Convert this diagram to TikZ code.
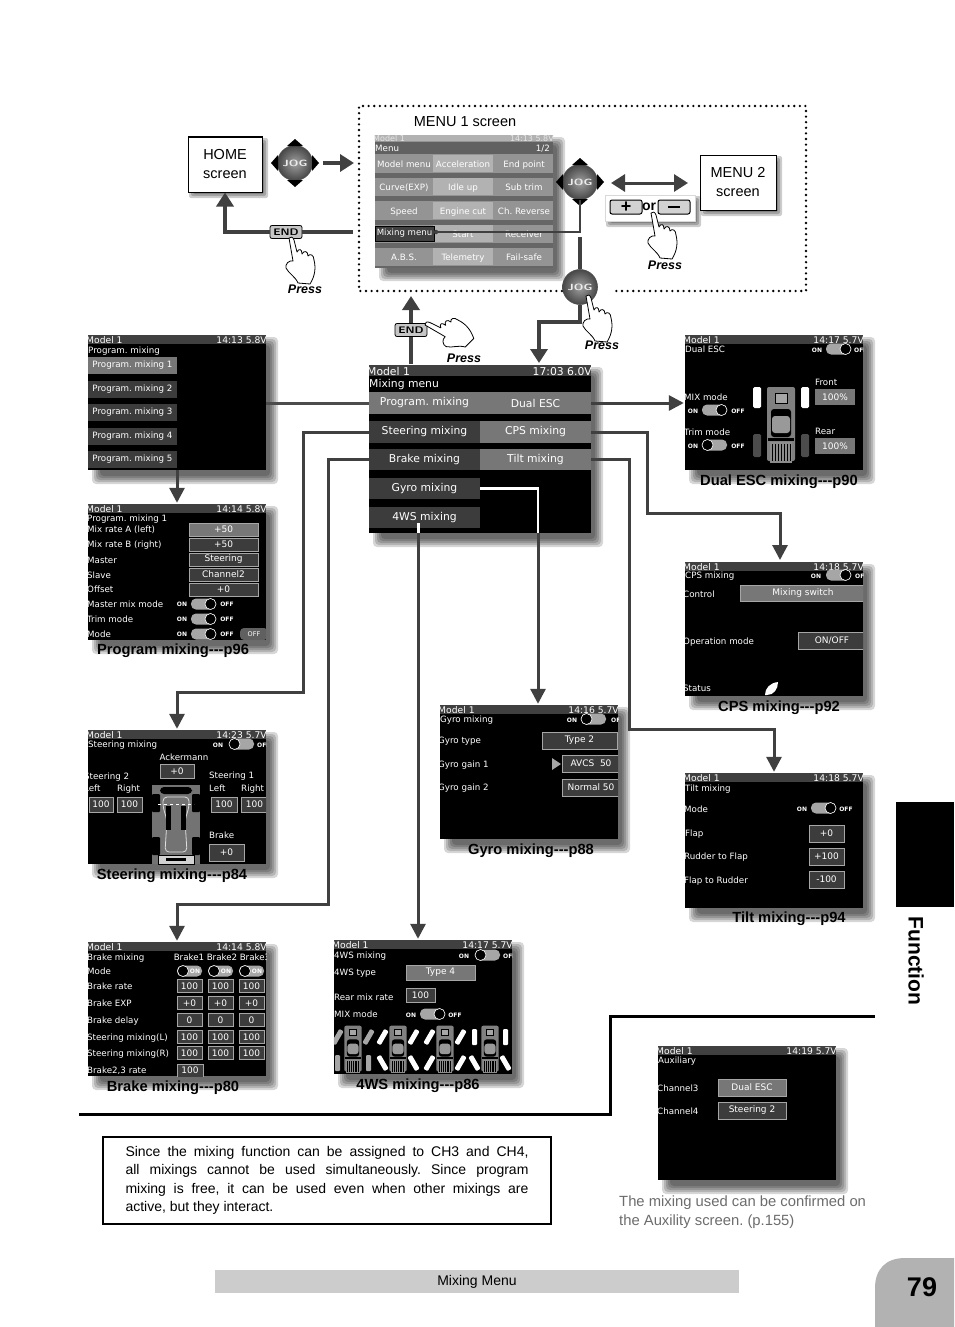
\documentclass[tikz,border=0pt]{standalone}
\usepackage{fontspec}
\setmainfont{Liberation Sans}
\newfontfamily\scrfont{DejaVu Sans}
\usetikzlibrary{arrows.meta,calc}
\definecolor{flowgray}{HTML}{404040}
\definecolor{rowdark}{HTML}{3C3C3C}
\definecolor{rowlight}{HTML}{777777}
\tikzset{
  flow/.style={draw=flowgray,line width=3pt},
  flowtip/.style={flow,-{Triangle[length=15pt,width=15pt]},shorten >=1pt},
  bigflow/.style={draw=flowgray,line width=4pt},
  bigtip/.style={bigflow,-{Triangle[length=14pt,width=17pt]}},
  scrbox/.style={fill=black,inner sep=0pt},
  scrbar/.style={fill=flowgray},
  scrtxt/.style={text=white,font=\scrfont\fontsize{8.7}{10}\selectfont,inner sep=0pt,anchor=west,yshift=-.6pt},
  scrhead/.style={scrtxt,font=\scrfont\fontsize{9.2}{10}\selectfont},
  tinytxt/.style={scrtxt,font=\scrfont\bfseries\fontsize{6}{7}\selectfont},
  valbox/.style={draw=gray!70,fill=rowdark,line width=.7pt,text=white,inner sep=0pt,font=\scrfont\fontsize{9}{10}\selectfont},
  capt/.style={font=\bfseries\fontsize{14.7}{16}\selectfont,inner sep=0pt},
  whitebox/.style={draw=black,fill=white,line width=1pt,align=center,font=\fontsize{14.5}{19}\selectfont,inner sep=0pt},
  jogball/.style={circle,minimum size=35pt,inner sep=0pt,draw=black!70,line width=.6pt,
    inner color=gray!75,outer color=black!72,text=gray!15,font=\sffamily\bfseries\fontsize{9}{9}\selectfont},
  endbtn/.style={draw=black,line width=.8pt,rounded corners=2pt,fill=gray!45,minimum width=32pt,minimum height=13pt,
    inner sep=0pt,font=\sffamily\bfseries\fontsize{9.5}{9}\selectfont},
  pmbtn/.style={draw=black,line width=1pt,rounded corners=2pt,fill=gray!35,minimum width=32pt,minimum height=14pt,
    inner sep=0pt,font=\bfseries\fontsize{18}{10}\selectfont},
  presstxt/.style={font=\bfseries\itshape\fontsize{12.5}{14}\selectfont,inner sep=0pt},
  handpic/.pic={
    \draw[fill=white,line width=.8pt,line join=round] (0,0) .. controls (2,-2) and (4,-1) .. (5,2) -- (8,14)
      .. controls (10,10) and (13,11) .. (13,16) .. controls (15,12) and (19,13) .. (19,18)
      .. controls (21,15) and (25,17) .. (25,22) .. controls (27,30) and (26,38) .. (21,46)
      -- (9,45) .. controls (6,38) and (0,36) .. (-3,30) .. controls (-4,26) and (0,22) .. (4,23)
      -- (0,0) -- cycle;
  },
  jogtips/.pic={
    \fill[black] (-8,-17) -- (8,-17) -- (0,-24) -- cycle;
    \fill[black] (-8,17) -- (8,17) -- (0,24) -- cycle;
    \fill[black] (-17,-8) -- (-17,8) -- (-24,0) -- cycle;
    \fill[black] (17,-8) -- (17,8) -- (24,0) -- cycle;
  },
  truckpic/.pic={
    \fill[black!50,rounded corners=2pt] (-14,-36) rectangle (14,38);
    \draw[black,fill=black!35,line width=.7pt] (-6,-30) rectangle (6,-20);
    \fill[black,rounded corners=3pt] (-10,-14) rectangle (10,14);
    \fill[black!40,rounded corners=3pt] (-9,-7) rectangle (9,10);
    \fill[black] (-13,15) rectangle (13,18);
    \fill[black!45] (-11,19) rectangle (11,40);
    \foreach \ribx in {-9,-6,...,9}{\draw[black,line width=.5pt] (\ribx,21) -- (\ribx,38);}
  },
}
\newcommand{\hdrh}{9}
\newcommand{\softshadow}[4]{\foreach \blr in {0,2,4}{\fill[black,opacity=.2,rounded corners=2pt] ({#1+5-\blr},{#2+5-\blr}) rectangle ({#3+2+\blr},{#4+2+\blr});}}
\newcommand{\stxt}[5][]{\node[scrtxt,#1] (#2) at (#3,#4) {#5};}
\newcommand{\valnode}[7][]{\node[valbox,minimum width={#5-#3},minimum height={#6-#4},#1] (#2) at ({(#3+#5)/2},{(#4+#6)/2}) {#7};}
% pill switch: left end, centre y, knob side (0 left, 1 right)
\newcommand{\togg}[3]{\fill[gray!70,rounded corners=5pt] (#1,{#2-5.5}) rectangle ({#1+25},{#2+5.5});
  \draw[white,fill=black,line width=.6pt] ({#1+5.5+14*#3},#2) circle (5.5pt);}
\newenvironment{scrn}[6]{%
  \foreach \blr in {0,2,4,6,8}{\fill[black,opacity=.16,rounded corners=4pt] ({#2+12-\blr},{#3+10-\blr}) rectangle ({#4+4+\blr},{#5+6+\blr});}
  \node[scrbox,minimum width={#4-#2},minimum height={#5-#3}] (#1) at ({(#2+#4)/2},{(#3+#5)/2}) {};
  \begin{scope}
  \clip (#1.south west) rectangle (#1.north east);
  \fill[scrbar] (#2,#3) rectangle (#4,{#3+\hdrh});
  \node[scrhead] (#1model) at ({#2-2},{#3+\hdrh/2}) {Model 1};
  \node[scrhead,anchor=east] (#1time) at ({#4+1},{#3+\hdrh/2}) {#6};
}{\end{scope}}
\begin{document}
\begin{tikzpicture}[x=1pt,y=-1pt]
\useasboundingbox (0,0) rectangle (954,1327);
\frenchspacing
% ---- page furniture
\fill[black] (896,802) rectangle (954,907);
\node[rotate=-90,font=\bfseries\fontsize{21}{24}\selectfont,inner sep=0pt] (tabname) at (916,961) {Function};
\fill[gray!60!white] (954,1258) -- (905,1258) .. controls (885,1258) and (875,1270) .. (875,1288) -- (875,1327) -- (954,1327) -- cycle;
\node[font=\bfseries\fontsize{27}{30}\selectfont,inner sep=0pt] (pagenum) at (922,1287) {79};
\node[fill=gray!40,minimum width=524pt,minimum height=23pt,inner sep=0pt,font=\fontsize{14}{16}\selectfont] (footbar) at (477,1281.5) {Mixing Menu};
\draw[black,line width=3pt] (79,1114) -| (610,1016) -- (875,1016);
\node[draw=black,line width=1.5pt,text width=403pt,inner xsep=22.5pt,inner ysep=0pt,minimum height=87pt,align=justify,
  font=\fontsize{14}{18.4}\selectfont] (notebox) at (327,1180.5)
  {Since the mixing function can be assigned to CH3 and CH4,\linebreak all mixings cannot be used simultaneously. Since program\linebreak mixing is free, it can be used even when other mixings are\linebreak active, but they interact.\par\vspace*{4pt}};
\node[anchor=west,inner sep=0pt,text=gray!85!black,align=left,font=\fontsize{14.8}{19}\selectfont] (auxnote) at (619,1212)
  {The mixing used can be confirmed on\\the Auxility screen. (p.155)};
% ---- top block
\draw[black,line width=2.6pt,line cap=round,dash pattern=on 0pt off 5.6pt] (562,291) -- (359,291) -- (359,106) -- (806,106) -- (806,291) -- (615,291);
\node[anchor=center,inner sep=0pt,font=\fontsize{14.5}{17}\selectfont] (menuonetxt) at (465,122) {MENU 1 screen};
\softshadow{188}{137}{262}{192}
\node[whitebox,minimum width=74pt,minimum height=55pt] (homebox) at (225,164.5) {HOME\\screen};
\softshadow{700}{155}{776}{210}
\node[whitebox,minimum width=76pt,minimum height=55pt] (menutwobox) at (738,182.5) {MENU 2\\screen};
% menu 1 screen
\begin{scope}[scrbox/.append style={fill=black!42},scrbar/.append style={fill=black!30},scrhead/.append style={text=black!10,font=\scrfont\fontsize{8}{9}\selectfont}]
\renewcommand{\hdrh}{6}
\begin{scrn}{scrMenu}{375}{135}{553}{267}{14:13 5.8V}
  \fill[black!62] (375,142) rectangle (553,154);
  \stxt{menuTitle}{375}{148}{Menu}
  \stxt[anchor=east]{menuPage}{550}{148}{1/2}
  \foreach \rowy/\rown in {164/a,187/b,211/c,234/d,257/e}{
    \fill[black!60] (375,{\rowy+9}) rectangle (553,{\rowy+14});
    \fill[black!30] (433,{\rowy-9}) rectangle (493,{\rowy+8});
  }
  \foreach \cxx/\cyy/\cnm/\ctx in {404/164/mA/Model menu,463/164/mB/Acceleration,524/164/mC/End point,
    404/187/mD/Curve(EXP),463/187/mE/Idle up,524/187/mF/Sub trim,
    404/211/mG/Speed,463/211/mH/Engine cut,524/211/mI/Ch. Reverse,
    463/234/mK/Start,524/234/mL/Receiver,
    404/257/mM/A.B.S.,463/257/mN/Telemetry,524/257/mO/Fail-safe}{
    \node[scrtxt,anchor=center,text=white] (\cnm) at (\cxx,\cyy) {\ctx};
  }
  \valnode[fill=flowgray,draw=black]{menuMix}{375}{226}{434}{241}{\fontsize{8.6}{10}\selectfont Mixing menu}
\end{scrn}
\end{scope}
\node[jogball] (joghome) at (295,163) {\scalebox{1.35}[1]{JOG}};
\pic (joghomeTips) at (joghome) {jogtips};
\coordinate (menuwest) at (354,163);
\draw[bigtip] (323,163) -- (menuwest);
\node[jogball] (jogsel) at (580,182) {\scalebox{1.35}[1]{JOG}};
\pic (jogselTips) at (jogsel) {jogtips};
\draw[flowgray,line width=3pt,{Triangle[length=14pt,width=17pt]}-{Triangle[length=14pt,width=17pt]}] (611,183) -- (688,183);
\softshadow{605}{195}{695}{221}
\node[draw=gray!30,fill=white,minimum width=90pt,minimum height=26pt,inner sep=0pt] (plusminus) at (650,208) {};
\node[pmbtn] (plusbtn) at (626,207) {+};
\node[pmbtn] (minusbtn) at (674,207) {\rule[0pt]{12pt}{2.4pt}};
\node[inner sep=0pt,font=\bfseries\fontsize{14}{14}\selectfont] (ortxt) at (649,206.5) {or};
\pic (handplus) at (651,213) {handpic};
\node[presstxt] (pressplus) at (665,265) {Press};
% end buttons and jog
\node[endbtn] (endhome) at (286,232) {\scalebox{1.2}[1]{END}};
\coordinate (endwest) at (353,232);
\draw[bigflow] (endwest) -- (endhome.east);
\draw[bigtip] (endhome.west) -| (homebox.south);
\pic (handhome) at (289,238) {handpic};
\node[presstxt] (presshome) at (305,289) {Press};
\node[circle,fill=flowgray,inner sep=0pt,minimum size=4.5pt] (mixdot) at (436,232) {};
\coordinate (jogturn) at (580,232);
\draw[flowgray,line width=1.2pt] (mixdot) -- (jogturn) -- (jogsel.south);
\node[jogball] (jogpress) at (580,287) {\scalebox{1.35}[1]{JOG}};
\coordinate (jogtop) at (580,237);
\draw[bigflow] (jogtop) -- (jogpress.north);
% mixing menu
\begin{scope}[scrhead/.append style={font=\scrfont\fontsize{10.8}{12}\selectfont}]
\renewcommand{\hdrh}{11}
\begin{scrn}{scrMix}{369}{365}{591}{533}{17:03 6.0V}
  \node[scrtxt,font=\scrfont\fontsize{10.8}{12}\selectfont] (mixtitle) at (369,383.5) {Mixing menu};
  \foreach \rnm/\rxa/\rxb/\rya/\ryb/\rcol/\rtx in {
    rowProgram/369/480/392/414/rowlight/Program. mixing,rowDual/480/591/392/414/rowlight/Dual ESC,
    rowSteer/369/480/421/443/rowdark/Steering mixing,rowCps/480/591/421/443/rowlight/CPS mixing,
    rowBrake/369/480/449/470/rowdark/Brake mixing,rowTilt/480/591/449/470/rowlight/Tilt mixing,
    rowGyro/369/480/478/499/rowdark/Gyro mixing,rowFour/369/480/507/528/rowdark/4WS mixing}{
    \node[fill=\rcol,text=white,inner sep=0pt,minimum width={\rxb-\rxa},minimum height={\ryb-\rya},
      font=\scrfont\fontsize{10.8}{12}\selectfont] (\rnm) at ({(\rxa+\rxb)/2},{(\rya+\ryb)/2}) {\rtx};
  }
\end{scrn}
\end{scope}
\coordinate (mixtop) at (411,364);
\node[endbtn] (endmix) at (411,330) {\scalebox{1.2}[1]{END}};
\coordinate (boxbottom) at (411,296);
\draw[bigflow] (mixtop) -- (endmix.south);
\draw[bigtip] (endmix.north) -- (boxbottom);
\pic[rotate=50] (handmix) at (425,325) {handpic};
\node[presstxt] (pressmix) at (464,358) {Press};
\coordinate (jogturnb) at (539,322);
\coordinate (mixarrow) at (539,363);
\draw[bigtip] (jogpress.south) |- (jogturnb) -- (mixarrow);
\pic (handjog) at (586,296) {handpic};
\node[presstxt] (pressjog) at (602,345) {Press};
% program mixing list
\begin{scrn}{scrList}{88}{335}{266}{470}{14:13 5.8V}
  \stxt{listTitle}{88}{350}{Program. mixing}
  \foreach \lnm/\lyy/\lcol/\ltx in {listOne/365.5/rowlight/Program. mixing 1,listTwo/389/rowdark/Program. mixing 2,
    listThree/412/rowdark/Program. mixing 3,listFour/436/rowdark/Program. mixing 4,listFive/459.5/rowdark/Program. mixing 5}{
    \node[fill=\lcol,text=white,minimum width=89pt,minimum height=17pt,inner sep=0pt,
      font=\scrfont\fontsize{8.7}{10}\selectfont] (\lnm) at (132.5,\lyy) {\ltx};
  }
\end{scrn}
% program mixing detail
\begin{scrn}{scrProg}{88}{504}{266}{640}{14:14 5.8V}
  \foreach \pnm/\pyy/\ptx in {progTitle/518/Program. mixing 1,progA/529/Mix rate A (left),progB/544/Mix rate B (right),
    progM/560/Master,progS/575/Slave,progO/589/Offset,progMm/604/Master mix mode,progT/619/Trim mode,progMo/634/Mode}{
    \node[scrtxt] (\pnm) at (87,\pyy) {\ptx};
  }
  \valnode[fill=rowlight]{progAv}{189}{523}{258}{536}{+50}
  \valnode{progBv}{189}{538}{258}{551}{+50}
  \valnode{progMv}{189}{553}{258}{566}{Steering}
  \valnode{progSv}{189}{568}{258}{581}{Channel2}
  \valnode{progOv}{189}{583}{258}{596}{+0}
  \foreach \tyy/\tnm in {604/progMt,619/progTt,634/progLt}{
    \togg{191}{\tyy}{1}
    \node[tinytxt,anchor=center] (\tnm on) at (182,\tyy) {ON};
    \node[tinytxt,anchor=center] (\tnm off) at (227,\tyy) {OFF};
  }
  \valnode[fill=gray!75!black,draw=none,rounded corners=4pt,minimum height=12pt]{progOffp}{240}{628}{268}{640}{\fontsize{6.5}{7}\selectfont OFF}
\end{scrn}
% steering mixing
\begin{scrn}{scrSteer}{88}{730}{266}{864}{14:23 5.7V}
  \stxt{steerTitle}{88}{744}{Steering mixing}
  \stxt[tinytxt,anchor=center]{steerOn}{218}{744}{ON}
  \togg{229}{744}{0}
  \stxt[tinytxt]{steerOf}{257}{744}{OFF}
  \stxt[anchor=center]{steerAck}{184}{757}{Ackermann}
  \valnode{steerAv}{160}{764}{194}{778}{+0}
  \stxt{steerTwo}{84}{776}{Steering 2}
  \stxt{steerL}{84}{788}{Left}
  \stxt{steerR}{117}{788}{Right}
  \stxt{steerOne}{209}{775}{Steering 1}
  \stxt{steerLb}{209}{788}{Left}
  \stxt{steerRb}{241}{788}{Right}
  \valnode{steerV}{89}{797}{113}{812}{100}
  \valnode{steerW}{117}{797}{142}{812}{100}
  \valnode{steerX}{211}{797}{237}{812}{100}
  \valnode{steerY}{241}{797}{268}{812}{100}
  \stxt{steerBr}{209}{835}{Brake}
  \valnode{steerBv}{209}{844}{244}{861}{+0}
  % car seen from above
  \fill[black!55] (152,785) rectangle (200,864);
  \fill[black,rounded corners=4pt] (160,787) rectangle (192,794);
  \foreach \whx/\why in {156/803,196/803,156/846,196/846}{\fill[black,rounded corners=1pt] ({\whx-4},{\why-9}) rectangle ({\whx+4},{\why+9});}
  \draw[gray!25,line width=.8pt,rounded corners=4pt] (163,797) -- (189,797) -- (189,807) -- (185,820) -- (187,852) -- (165,852) -- (167,820) -- (163,807) -- cycle;
  \fill[black] (166,806) rectangle (171,830);
  \fill[black] (181,806) rectangle (186,830);
  \draw[white,line width=.8pt,dashed] (158,804) -- (194,804);
  \draw[black,fill=gray!35,line width=.4pt] (158,855) rectangle (194,864);
  \fill[black] (166,858) rectangle (186,861);
\end{scrn}
% brake mixing
\begin{scrn}{scrBrake}{88}{942}{266}{1076}{14:14 5.8V}
  \foreach \bnm/\byy/\btx in {brTitle/957/Brake mixing,brMode/971/Mode,brRate/986/Brake rate,brExp/1003/Brake EXP,
    brDelay/1020/Brake delay,brSl/1037/Steering mixing(L),brSr/1053/Steering mixing(R),brLast/1070/{Brake2,3 rate}}{
    \node[scrtxt] (\bnm) at (87,\byy) {\btx};
  }
  \foreach \cnm/\cxx/\clx/\clab in {colA/190/189/Brake1,colB/221/222/Brake2,colC/252/255/Brake3}{
    \node[scrtxt,anchor=center] (\cnm) at (\clx,957) {\clab};
    \fill[gray!70,rounded corners=5pt] ({\cxx-13},965.5) rectangle ({\cxx+12},976.5);
    \draw[white,fill=black,line width=.6pt] ({\cxx-7},971) circle (5.5pt);
    \node[tinytxt,anchor=center] (\cnm on) at ({\cxx+5},971) {ON};
    \foreach \vnm/\vyy/\vtx in {rate/986/100,exp/1003/+0,dly/1020/0,sl/1037/100,sr/1053/100}{
      \node[valbox,minimum width=25pt,minimum height=13pt,anchor=center] (\cnm\vnm) at ({\cxx-.5},\vyy) {\vtx};
    }
  }
  \valnode{brLastv}{177}{1064}{203}{1077}{100}
\end{scrn}
% 4WS mixing
\begin{scrn}{scrFour}{334}{940}{512}{1074}{14:17 5.7V}
  \stxt{fourTitle}{334}{955}{4WS mixing}
  \stxt{fourType}{334}{973}{4WS type}
  \stxt{fourRear}{334}{997}{Rear mix rate}
  \stxt{fourMix}{334}{1014}{MIX mode}
  \stxt[tinytxt,anchor=center]{fourOn}{464}{955}{ON}
  \togg{475}{955}{0}
  \stxt[tinytxt]{fourOf}{503}{955}{OFF}
  \valnode[fill=rowlight]{fourTv}{406}{965}{475}{980}{Type 4}
  \valnode{fourRv}{406}{988}{435}{1002}{100}
  \stxt[tinytxt,anchor=center]{fourOnb}{411}{1014}{ON}
  \togg{420}{1014}{1}
  \stxt[tinytxt,anchor=center]{fourOff}{455}{1014}{OFF}
  \foreach \tkx/\fang/\rang/\fcol/\rcol in {353/-30/0/gray!70/gray!70,398/-30/30/white/white,445/-30/-30/white/white,490/0/30/white/white}{
    \begin{scope}[shift={(\tkx,1048)}]
      \pic[scale=.62] {truckpic};
      \foreach \wsd in {-1,1}{
        \fill[\fcol,rounded corners=1pt,rotate around={\fang:(\wsd*15.5,-11)}] ({\wsd*15.5-2.5},-19) rectangle ({\wsd*15.5+2.5},-3);
        \fill[\rcol,rounded corners=1pt,rotate around={\rang:(\wsd*15.5,15)}] ({\wsd*15.5-2.5},7) rectangle ({\wsd*15.5+2.5},23);
      }
    \end{scope}
  }
\end{scrn}
% dual ESC
\begin{scrn}{scrDual}{685}{335}{863}{470}{14:17 5.7V}
  \stxt{dualTitle}{685}{349}{Dual ESC}
  \stxt[tinytxt,anchor=center]{dualOn}{817}{349}{ON}
  \togg{826}{349}{1}
  \stxt[tinytxt]{dualOf}{854}{349}{OFF}
  \stxt{dualMix}{684}{397}{MIX mode}
  \stxt[tinytxt,anchor=center]{dualMon}{693}{410}{ON}
  \togg{702}{410}{1}
  \stxt[tinytxt,anchor=center]{dualMof}{738}{410}{OFF}
  \stxt{dualTrim}{684}{432}{Trim mode}
  \stxt[tinytxt,anchor=center]{dualTon}{693}{445}{ON}
  \togg{702}{445}{0}
  \stxt[tinytxt,anchor=center]{dualTof}{738}{445}{OFF}
  \stxt{dualFront}{815}{382}{Front}
  \valnode[fill=rowlight,draw=none]{dualFv}{815}{389}{855}{405}{100\%}
  \stxt{dualRear}{815}{431}{Rear}
  \valnode[fill=rowlight,draw=none]{dualRv}{815}{438}{855}{454}{100\%}
  \begin{scope}[shift={(781,423)}]
    \pic {truckpic};
    \foreach \wsd in {-1,1}{
      \fill[white,rounded corners=1.5pt] ({\wsd*24-4},-36) rectangle ({\wsd*24+4},-15);
      \fill[gray!60!black,rounded corners=1.5pt] ({\wsd*24-4},11) rectangle ({\wsd*24+4},34);
    }
  \end{scope}
\end{scrn}
% CPS
\begin{scrn}{scrCps}{685}{562}{863}{696}{14:18 5.7V}
  \stxt{cpsTitle}{685}{575}{CPS mixing}
  \stxt[tinytxt,anchor=center]{cpsOn}{816}{575}{ON}
  \togg{826}{575}{1}
  \stxt[tinytxt]{cpsOf}{855}{575}{OFF}
  \stxt{cpsCtl}{683}{594}{Control}
  \valnode[fill=rowlight]{cpsCv}{740}{585}{866}{601}{Mixing switch}
  \stxt{cpsOp}{683}{641}{Operation mode}
  \valnode{cpsOv}{798}{632}{866}{649}{ON/OFF}
  \stxt{cpsSt}{683}{688}{Status}
  \fill[white] (765,695) .. controls (765,688) and (770,683) .. (778,682) .. controls (778,689) and (774,695) .. (767,695) -- cycle;
\end{scrn}
% gyro
\begin{scrn}{scrGyro}{440}{705}{618}{839}{14:16 5.7V}
  \stxt{gyTitle}{440}{719}{Gyro mixing}
  \stxt[tinytxt,anchor=center]{gyOn}{572}{719}{ON}
  \togg{581}{719}{0}
  \stxt[tinytxt]{gyOf}{611}{719}{OFF}
  \stxt{gyType}{438}{741}{Gyro type}
  \valnode{gyTv}{542}{732}{617}{749}{Type 2}
  \stxt{gyOne}{438}{764}{Gyro gain 1}
  \fill[gray!70] (552,758) -- (561,764) -- (552,770) -- cycle;
  \valnode{gyOv}{562}{755}{620}{772}{AVCS\ \ 50}
  \stxt{gyTwo}{438}{787}{Gyro gain 2}
  \valnode{gyWv}{562}{779}{620}{796}{Normal\ 50}
\end{scrn}
% tilt
\begin{scrn}{scrTilt}{685}{773}{863}{908}{14:18 5.7V}
  \stxt{tiTitle}{685}{788}{Tilt mixing}
  \stxt{tiMode}{684}{809}{Mode}
  \stxt{tiFlap}{685}{833}{Flap}
  \stxt{tiRf}{684}{856}{Rudder to Flap}
  \stxt{tiFr}{684}{880}{Flap to Rudder}
  \stxt[tinytxt,anchor=center]{tiOn}{802}{808}{ON}
  \togg{811}{808}{1}
  \stxt[tinytxt,anchor=center]{tiOff}{846}{808}{OFF}
  \valnode{tiFv}{809}{825}{844}{842}{+0}
  \valnode{tiRv}{809}{848}{844}{865}{+100}
  \valnode{tiPv}{809}{871}{844}{888}{-100}
\end{scrn}
% auxiliary
\begin{scrn}{scrAux}{658}{1046}{836}{1180}{14:19 5.7V}
  \stxt{auxTitle}{658}{1060}{Auxiliary}
  \stxt{auxThree}{657}{1088}{Channel3}
  \stxt{auxFour}{657}{1111}{Channel4}
  \valnode[fill=rowlight]{auxTv}{718}{1079}{786}{1096}{Dual ESC}
  \valnode{auxFv}{718}{1102}{786}{1119}{Steering 2}
\end{scrn}
% ---- captions
\node[capt] (captProg) at (173,651) {Program mixing-{}-{}-p96};
\node[capt] (captDual) at (779,482) {Dual ESC mixing-{}-{}-p90};
\node[capt] (captCps) at (779,708) {CPS mixing-{}-{}-p92};
\node[capt] (captGyro) at (531,851) {Gyro mixing-{}-{}-p88};
\node[capt] (captTilt) at (789,919) {Tilt mixing-{}-{}-p94};
\node[capt] (captSteer) at (172,876) {Steering mixing-{}-{}-p84};
\node[capt] (captBrake) at (173,1088) {Brake mixing-{}-{}-p80};
\node[capt] (captFour) at (418,1086) {4WS mixing-{}-{}-p86};
% ---- connectors
\coordinate (turnSteer) at (303,692);
\coordinate (turnBrake) at (328,904);
\coordinate (turnCps) at (647,513);
\coordinate (cpsin) at (780,561);
\coordinate (turnTilt) at (629,729);
\coordinate (gyroexit) at (538,533);
\coordinate (fourexit) at (418,533);
\draw[flow,draw=gray!60!black] (scrList.east |- rowProgram) -- (rowProgram.west);
\draw[flowtip] (scrList.south) -- (scrProg.north);
\draw[flowtip] (rowSteer.west) -| (turnSteer) -| (scrSteer.north);
\draw[flowtip] (rowBrake.west) -| (turnBrake) -| (scrBrake.north);
\draw[flowtip] (rowDual.east) -- (scrDual.west |- rowDual);
\draw[flowtip] (rowCps.east) -| (turnCps) -| (cpsin);
\draw[flowtip] (rowTilt.east) -| (turnTilt) -| (scrTilt.north);
\draw[white,line width=2.5pt] (rowGyro.east) -| (gyroexit);
\draw[flowtip] (gyroexit) -- (gyroexit |- scrGyro.north);
\draw[white,line width=3pt] (rowFour.south -| fourexit) ++(0,-5) -- (fourexit);
\draw[flowtip] (fourexit) -- (fourexit |- scrFour.north);
\end{tikzpicture}
\end{document}
